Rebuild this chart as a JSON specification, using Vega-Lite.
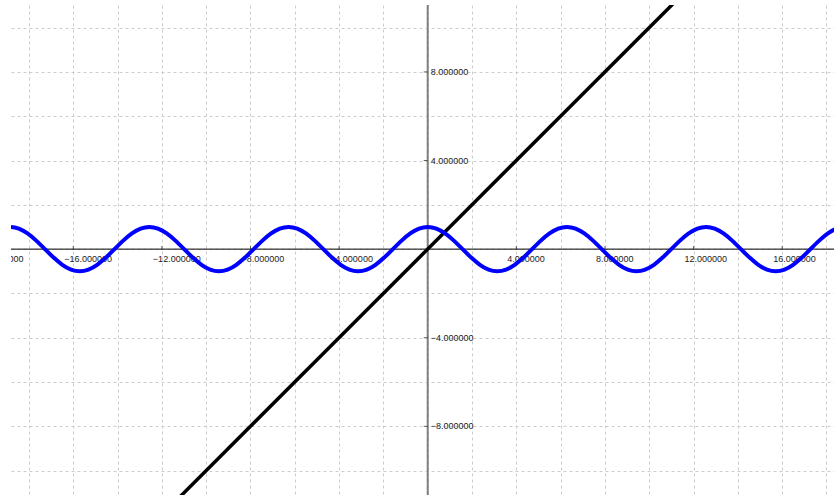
{
  "$schema": "https://vega.github.io/schema/vega-lite/v6.json",
  "width": 823,
  "height": 490,
  "padding": {"left": 11, "top": 5, "right": 0, "bottom": 0},
  "autosize": {"type": "none"},
  "background": "white",
  "config": {"view": {"stroke": null}},
  "datasets": {
    "cos": [
      {"x": -19.2423, "y": 0.9239}, {"x": -18.8496, "y": 1}, {"x": -18.4569, "y": 0.9239}, {"x": -18.0642, "y": 0.7071},
      {"x": -17.6715, "y": 0.3827}, {"x": -17.2788, "y": 0}, {"x": -16.8861, "y": -0.3827}, {"x": -16.4934, "y": -0.7071},
      {"x": -16.1007, "y": -0.9239}, {"x": -15.708, "y": -1}, {"x": -15.3153, "y": -0.9239}, {"x": -14.9226, "y": -0.7071},
      {"x": -14.5299, "y": -0.3827}, {"x": -14.1372, "y": 0}, {"x": -13.7445, "y": 0.3827}, {"x": -13.3518, "y": 0.7071},
      {"x": -12.9591, "y": 0.9239}, {"x": -12.5664, "y": 1}, {"x": -12.1737, "y": 0.9239}, {"x": -11.781, "y": 0.7071},
      {"x": -11.3883, "y": 0.3827}, {"x": -10.9956, "y": 0}, {"x": -10.6029, "y": -0.3827}, {"x": -10.2102, "y": -0.7071},
      {"x": -9.8175, "y": -0.9239}, {"x": -9.4248, "y": -1}, {"x": -9.0321, "y": -0.9239}, {"x": -8.6394, "y": -0.7071},
      {"x": -8.2467, "y": -0.3827}, {"x": -7.854, "y": 0}, {"x": -7.4613, "y": 0.3827}, {"x": -7.0686, "y": 0.7071},
      {"x": -6.6759, "y": 0.9239}, {"x": -6.2832, "y": 1}, {"x": -5.8905, "y": 0.9239}, {"x": -5.4978, "y": 0.7071},
      {"x": -5.1051, "y": 0.3827}, {"x": -4.7124, "y": 0}, {"x": -4.3197, "y": -0.3827}, {"x": -3.927, "y": -0.7071},
      {"x": -3.5343, "y": -0.9239}, {"x": -3.1416, "y": -1}, {"x": -2.7489, "y": -0.9239}, {"x": -2.3562, "y": -0.7071},
      {"x": -1.9635, "y": -0.3827}, {"x": -1.5708, "y": 0}, {"x": -1.1781, "y": 0.3827}, {"x": -0.7854, "y": 0.7071},
      {"x": -0.3927, "y": 0.9239}, {"x": 0, "y": 1},
      {"x": 0.3927, "y": 0.9239}, {"x": 0.7854, "y": 0.7071}, {"x": 1.1781, "y": 0.3827}, {"x": 1.5708, "y": 0},
      {"x": 1.9635, "y": -0.3827}, {"x": 2.3562, "y": -0.7071}, {"x": 2.7489, "y": -0.9239}, {"x": 3.1416, "y": -1},
      {"x": 3.5343, "y": -0.9239}, {"x": 3.927, "y": -0.7071}, {"x": 4.3197, "y": -0.3827}, {"x": 4.7124, "y": 0},
      {"x": 5.1051, "y": 0.3827}, {"x": 5.4978, "y": 0.7071}, {"x": 5.8905, "y": 0.9239}, {"x": 6.2832, "y": 1},
      {"x": 6.6759, "y": 0.9239}, {"x": 7.0686, "y": 0.7071}, {"x": 7.4613, "y": 0.3827}, {"x": 7.854, "y": 0},
      {"x": 8.2467, "y": -0.3827}, {"x": 8.6394, "y": -0.7071}, {"x": 9.0321, "y": -0.9239}, {"x": 9.4248, "y": -1},
      {"x": 9.8175, "y": -0.9239}, {"x": 10.2102, "y": -0.7071}, {"x": 10.6029, "y": -0.3827}, {"x": 10.9956, "y": 0},
      {"x": 11.3883, "y": 0.3827}, {"x": 11.781, "y": 0.7071}, {"x": 12.1737, "y": 0.9239}, {"x": 12.5664, "y": 1},
      {"x": 12.9591, "y": 0.9239}, {"x": 13.3518, "y": 0.7071}, {"x": 13.7445, "y": 0.3827}, {"x": 14.1372, "y": 0},
      {"x": 14.5299, "y": -0.3827}, {"x": 14.9226, "y": -0.7071}, {"x": 15.3153, "y": -0.9239}, {"x": 15.708, "y": -1},
      {"x": 16.1007, "y": -0.9239}, {"x": 16.4934, "y": -0.7071}, {"x": 16.8861, "y": -0.3827}, {"x": 17.2788, "y": 0},
      {"x": 17.6715, "y": 0.3827}, {"x": 18.0642, "y": 0.7071}, {"x": 18.4569, "y": 0.9239}, {"x": 18.8496, "y": 1}
    ],
    "identity": [{"x": -12, "y": -12}, {"x": 12, "y": 12}],
    "zero": [{"v": 0}],
    "xlabels": [{"v": -20}, {"v": -16}, {"v": -12}, {"v": -8}, {"v": -4}, {"v": 4}, {"v": 8}, {"v": 12}, {"v": 16}],
    "ylabels": [{"v": 8}, {"v": 4}, {"v": -4}, {"v": -8}]
  },
  "layer": [
    {
      "data": {"name": "zero"},
      "mark": {"type": "rule", "opacity": 0},
      "encoding": {
        "x": {"field": "v", "type": "quantitative",
          "scale": {"domain": [-18.81, 18.34], "nice": false, "zero": false},
          "axis": {"values": [-18, -16, -14, -12, -10, -8, -6, -4, -2, 0, 2, 4, 6, 8, 10, 12, 14, 16, 18],
            "grid": true, "gridDash": [3, 3], "gridColor": "#cccccc", "gridWidth": 1,
            "labels": false, "ticks": false, "domain": false, "title": null}},
        "y": {"field": "v", "type": "quantitative",
          "scale": {"domain": [-11.10, 11.02], "nice": false, "zero": false},
          "axis": {"values": [-10, -8, -6, -4, -2, 0, 2, 4, 6, 8, 10],
            "grid": true, "gridDash": [3, 3], "gridColor": "#cccccc", "gridWidth": 1,
            "labels": false, "ticks": false, "domain": false, "title": null}}
      }
    },
    {
      "data": {"name": "zero"},
      "mark": {"type": "rule", "color": "#000000", "strokeWidth": 1},
      "encoding": {"y": {"field": "v", "type": "quantitative"}}
    },
    {
      "data": {"name": "zero"},
      "mark": {"type": "rule", "color": "#808080", "strokeWidth": 2},
      "encoding": {"x": {"field": "v", "type": "quantitative"}}
    },
    {
      "data": {"name": "xlabels"},
      "mark": {"type": "tick", "orient": "vertical", "size": 4, "thickness": 1, "color": "#222222", "yOffset": -1, "clip": true},
      "encoding": {
        "x": {"field": "v", "type": "quantitative"},
        "y": {"datum": 0, "type": "quantitative"}
      }
    },
    {
      "data": {"name": "xlabels"},
      "mark": {"type": "text", "align": "left", "baseline": "middle", "dx": -9, "dy": 10, "fontSize": 9, "font": "Liberation Sans", "color": "#222222", "clip": true},
      "encoding": {
        "x": {"field": "v", "type": "quantitative"},
        "y": {"datum": 0, "type": "quantitative"},
        "text": {"field": "v", "type": "quantitative", "format": ".6f"}
      }
    },
    {
      "data": {"name": "ylabels"},
      "mark": {"type": "tick", "orient": "horizontal", "size": 4, "thickness": 1, "color": "#222222", "xOffset": -2},
      "encoding": {
        "x": {"datum": 0, "type": "quantitative"},
        "y": {"field": "v", "type": "quantitative"}
      }
    },
    {
      "data": {"name": "ylabels"},
      "mark": {"type": "text", "align": "left", "baseline": "middle", "dx": 3, "fontSize": 9, "font": "Liberation Sans", "color": "#222222"},
      "encoding": {
        "x": {"datum": 0, "type": "quantitative"},
        "y": {"field": "v", "type": "quantitative"},
        "text": {"field": "v", "type": "quantitative", "format": ".6f"}
      }
    },
    {
      "data": {"name": "identity"},
      "mark": {"type": "line", "color": "#000000", "strokeWidth": 3.5, "clip": true},
      "encoding": {
        "x": {"field": "x", "type": "quantitative"},
        "y": {"field": "y", "type": "quantitative"}
      }
    },
    {
      "data": {"name": "cos"},
      "mark": {"type": "line", "color": "#0000ff", "strokeWidth": 4, "interpolate": "natural", "clip": true},
      "encoding": {
        "x": {"field": "x", "type": "quantitative"},
        "y": {"field": "y", "type": "quantitative"}
      }
    }
  ]
}
